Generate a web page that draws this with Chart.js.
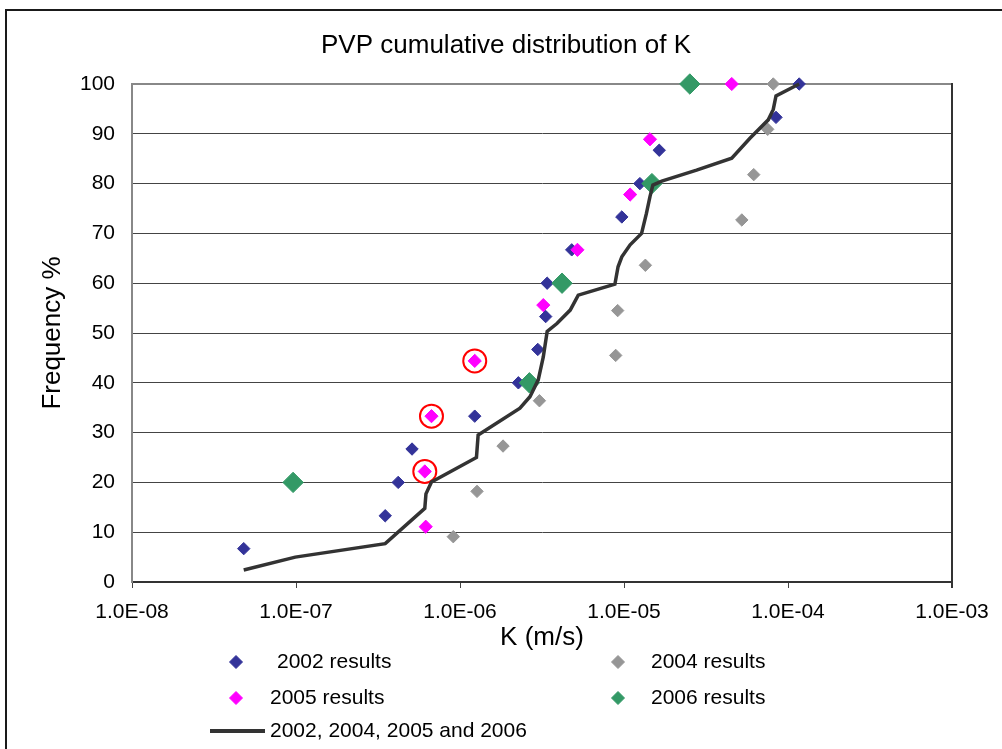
<!DOCTYPE html>
<html>
<head>
<meta charset="utf-8">
<title>PVP cumulative distribution of K</title>
<script src="https://cdn.jsdelivr.net/npm/chart.js@4.4.0/dist/chart.umd.min.js"></script>
<style>
  html, body { margin: 0; padding: 0; background: #fff; }
  #wrap { width: 1002px; height: 749px; }
</style>
</head>
<body>
<div id="wrap"><canvas id="chart" width="1002" height="749"></canvas></div>
<script>
// values: K in m/s, frequency in %
const k2002 = [4.8e-8, 3.5e-7, 4.2e-7, 5.1e-7, 1.23e-6, 2.27e-6, 2.98e-6, 3.33e-6, 3.4e-6, 4.8e-6, 9.7e-6, 1.25e-5, 1.64e-5, 8.45e-5, 1.17e-4];
const f2002 = [6.7, 13.3, 20, 26.7, 33.3, 40, 46.7, 53.3, 60, 66.7, 73.3, 80, 86.7, 93.3, 100];

const k2004 = [9.1e-7, 1.27e-6, 1.83e-6, 3.05e-6, 8.9e-6, 9.15e-6, 1.35e-5, 5.23e-5, 6.18e-5, 7.52e-5, 8.13e-5];
const f2004 = [9.1, 18.2, 27.3, 36.4, 45.5, 54.5, 63.6, 72.7, 81.8, 90.9, 100];

const k2005 = [6.18e-7, 6.1e-7, 6.7e-7, 1.23e-6, 3.22e-6, 5.2e-6, 1.09e-5, 1.44e-5, 4.54e-5];
const f2005 = [11.1, 22.2, 33.3, 44.4, 55.6, 66.7, 77.8, 88.9, 100];

const k2006 = [9.6e-8, 2.65e-6, 4.19e-6, 1.48e-5, 2.52e-5];
const f2006 = [20, 40, 60, 80, 100];

// 2005 points marked with a red ring
const kRinged = [6.1e-7, 6.7e-7, 1.23e-6];
const fRinged = [22.2, 33.3, 44.4];

// combined cumulative curve
const kAll = [4.8e-8, 9.9e-8, 3.5e-7, 6.1e-7, 6.2e-7, 6.7e-7, 1.26e-6, 1.29e-6, 2.32e-6, 2.67e-6, 3.0e-6, 3.22e-6, 3.4e-6, 3.9e-6, 4.7e-6, 5.26e-6, 8.8e-6, 9.2e-6, 9.7e-6, 1.09e-5, 1.28e-5, 1.37e-5, 1.44e-5, 1.5e-5, 1.7e-5, 2.77e-5, 4.54e-5, 5.86e-5, 7.58e-5, 8.13e-5, 8.45e-5, 1.17e-4];
const fAll = [2.4, 5, 7.7, 14.8, 17.7, 20.1, 25, 29.5, 34.9, 37.2, 40.6, 45.2, 50.3, 51.9, 54.6, 57.6, 59.8, 63.3, 65.3, 67.7, 70, 74, 77.4, 79.7, 80.5, 82.7, 85.1, 89.1, 92.8, 94.9, 97.6, 100];

const xTickValues = [1e-8, 1e-7, 1e-6, 1e-5, 1e-4, 1e-3];
const xTickLabels = ["1.0E-08", "1.0E-07", "1.0E-06", "1.0E-05", "1.0E-04", "1.0E-03"];

const FONT = "'Liberation Sans', Arial, sans-serif";
Chart.defaults.font.family = FONT;
Chart.defaults.color = "#000";

function pts(ks, fs) {
  return ks.map((k, i) => ({ x: k, y: fs[i] }));
}

function diamonds(label, ks, fs, color, r, order) {
  return {
    label, data: pts(ks, fs), order,
    pointStyle: "rectRot", pointRadius: r,
    backgroundColor: color, borderColor: color, borderWidth: 1,
    clip: false
  };
}

// outer frame (left + top only, like the cropped sheet)
const framePlugin = {
  id: "frame",
  beforeDraw(chart) {
    const ctx = chart.ctx;
    ctx.save();
    ctx.strokeStyle = "#1a1a1a";
    ctx.lineWidth = 2;
    ctx.beginPath();
    ctx.moveTo(6, 749);
    ctx.lineTo(6, 10);
    ctx.lineTo(1002, 10);
    ctx.stroke();
    ctx.restore();
  },
  beforeDatasetsDraw(chart) {
    const { ctx, chartArea: a } = chart;
    ctx.save();
    ctx.strokeStyle = "#333";
    ctx.lineWidth = 2;
    ctx.beginPath();
    ctx.moveTo(a.right, a.top - 1);
    ctx.lineTo(a.right, a.bottom + 6);
    ctx.stroke();
    ctx.restore();
  }
};

const titlePlugin = {
  id: "sheetTitle",
  afterDraw(chart, args, opts) {
    const ctx = chart.ctx;
    ctx.save();
    ctx.font = "26px " + FONT;
    ctx.fillStyle = "#000";
    ctx.textAlign = "center";
    ctx.textBaseline = "middle";
    ctx.fillText(opts.text, opts.x, opts.y);
    ctx.restore();
  }
};

const legendPlugin = {
  id: "sheetLegend",
  afterDraw(chart, args, opts) {
    const ctx = chart.ctx;
    ctx.save();
    ctx.font = opts.size + "px " + FONT;
    ctx.textBaseline = "middle";
    ctx.textAlign = "left";
    opts.items.forEach(it => {
      const ds = chart.data.datasets[it.dataset];
      if (ds.showLine) {
        ctx.strokeStyle = ds.borderColor;
        ctx.lineWidth = 4;
        ctx.beginPath();
        ctx.moveTo(it.x, it.y);
        ctx.lineTo(it.x2, it.y);
        ctx.stroke();
      } else {
        ctx.fillStyle = ds.backgroundColor;
        ctx.strokeStyle = ds.borderColor;
        ctx.lineWidth = 1;
        Chart.helpers.drawPoint(ctx, { pointStyle: "rectRot", radius: 6.5, borderWidth: 1 }, it.x, it.y);
      }
      ctx.fillStyle = "#000";
      ctx.fillText(ds.label, it.tx, it.y);
    });
    ctx.restore();
  }
};

new Chart(document.getElementById("chart"), {
  type: "scatter",
  data: {
    datasets: [
      diamonds("2002 results", k2002, f2002, "#333399", 6.2, 5),
      diamonds("2004 results", k2004, f2004, "#969696", 6.2, 4),
      diamonds("2005 results", k2005, f2005, "#FF00FF", 6.6, 3),
      diamonds("2006 results", k2006, f2006, "#339966", 10.2, 2),
      {
        label: "", data: pts(kRinged, fRinged), order: 1,
        pointStyle: "circle", pointRadius: 11.5,
        backgroundColor: "rgba(0,0,0,0)", borderColor: "#FF0000", borderWidth: 2,
        clip: false
      },
      {
        label: "2002, 2004, 2005 and 2006", data: pts(kAll, fAll), order: 0,
        showLine: true, pointRadius: 0, borderColor: "#333333", borderWidth: 3.5,
        tension: 0, fill: false, clip: false
      }
    ]
  },
  options: {
    responsive: false,
    animation: false,
    devicePixelRatio: 1,
    layout: { padding: { top: 84, right: 50, bottom: 96, left: 0 } },
    scales: {
      x: {
        type: "logarithmic",
        min: 1e-8,
        max: 1e-3,
        afterBuildTicks: s => { s.ticks = xTickValues.map(v => ({ value: v, major: true })); },
        afterFit: s => { s.height = 71; },
        ticks: {
          callback: (v, i) => xTickLabels[i],
          font: { size: 21 }, padding: 12, maxRotation: 0, autoSkip: false
        },
        grid: { drawOnChartArea: false, tickLength: 6, color: "#444", lineWidth: 1 },
        border: { color: "#333", width: 2 },
        title: { display: true, text: "K (m/s)", font: { size: 26 }, padding: 0 }
      },
      y: {
        min: 0,
        max: 100,
        afterFit: s => { s.width = 132; },
        ticks: { stepSize: 10, font: { size: 21 }, padding: 17 },
        grid: {
          drawTicks: false,
          color: c => (c.tick && c.tick.value === 100 ? "#888" : "#444"),
          lineWidth: c => (c.tick && c.tick.value === 100 ? 2 : 1)
        },
        border: { color: "#888", width: 2 },
        title: { display: true, text: "Frequency %", font: { size: 26 }, padding: { top: 37, bottom: 0 } }
      }
    },
    plugins: {
      legend: { display: false },
      tooltip: { enabled: false },
      sheetTitle: { text: "PVP cumulative distribution of K", x: 506, y: 46 },
      sheetLegend: {
        size: 21,
        items: [
          { dataset: 0, x: 236, y: 662, tx: 277 },
          { dataset: 1, x: 618, y: 662, tx: 651 },
          { dataset: 2, x: 236, y: 698, tx: 270 },
          { dataset: 3, x: 618, y: 698, tx: 651 },
          { dataset: 5, x: 210, x2: 265, y: 731, tx: 270 }
        ]
      }
    }
  },
  plugins: [framePlugin, titlePlugin, legendPlugin]
});
</script>
</body>
</html>
